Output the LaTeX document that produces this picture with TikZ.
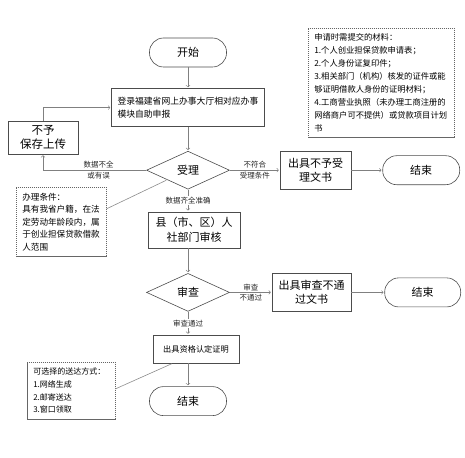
\documentclass[tikz,border=0pt]{standalone}
\usepackage{fontspec}
\setmainfont{Noto Sans CJK SC}
\usetikzlibrary{positioning,shapes.geometric}

\begin{document}
\begin{tikzpicture}[x=1pt,y=-1pt,->,shorten >=1pt,auto,node distance=22pt,
        line width=0.6pt,
        flow/.style={draw=black!50},
        every edge/.append style={flow},
        box node/.style={draw=black!70,rectangle,align=center,inner sep=2pt,
            font=\fontsize{11}{14.5}\selectfont},
        end node/.style={draw=black!70,rectangle,rounded corners=14pt,minimum width=77pt,
            minimum height=29pt,font=\fontsize{11}{13}\selectfont},
        check node/.style={draw=black!70,diamond,aspect=1,inner sep=0pt,minimum width=83pt,
            minimum height=38pt,font=\fontsize{11}{13}\selectfont},
        note node/.style={draw=black!60,dash pattern=on 1.2pt off 0.8pt,rectangle,align=left,
            anchor=north west,inner xsep=6pt},
        note line/.style={-,draw=black!45},
        label node/.style={font=\fontsize{7.5}{9}\selectfont,inner sep=1.5pt,text=black!85}]

    \useasboundingbox (0,0) rectangle (465,457);

    % main column
    \node[end node] (start) at (188,52.5) {开始};
    \node[box node,align=left,text width=141pt,minimum height=38pt,inner xsep=6pt,
        font=\fontsize{8.8}{13}\selectfont] (login) [below=21pt of start]
        {登录福建省网上办事大厅相对应办事\\模块自助申报};
    \node[check node] (accept) [below=24pt of login] {受理};
    \node[box node,minimum width=92pt,minimum height=36pt] (county)
        [below=22pt of accept,xshift=6pt] {县（市、区）人\\社部门审核};
    \node[check node] (review) [below=25pt of county,xshift=-6pt] {审查};
    \node[box node,minimum width=86pt,minimum height=28pt,font=\fontsize{8.2}{10}\selectfont]
        (cert) [below=23pt of review,xshift=8pt] {出具资格认定证明};
    \node[end node] (end3) [below=23pt of cert,xshift=-8pt] {结束};

    % right branches
    \node[box node,minimum width=71pt,minimum height=38pt] (reject1) [right=50pt of accept]
        {出具不予受\\理文书};
    \node[end node] (end1) [right=31pt of reject1] {结束};
    \node[box node,minimum width=79pt,minimum height=38pt] (reject2) [right=42pt of review]
        {出具审查不通\\过文书};
    \node[end node,minimum width=76pt] (end2) [right=33pt of reject2] {结束};

    % left side
    \node[box node,minimum width=70pt,minimum height=33pt,font=\fontsize{11.5}{14}\selectfont]
        (refuse) at (43,137.5) {不予\\保存上传};

    % notes
    \node[note node,text width=134pt,minimum height=109pt,font=\fontsize{8.3}{13.1}\selectfont]
        (materials) at (308,28)
        {申请时需提交的材料：\\1.个人创业担保贷款申请表；\\2.个人身份证复印件；\\
         3.相关部门（机构）核发的证件或能\\够证明借款人身份的证明材料；\\
         4.工商营业执照（未办理工商注册的\\网络商户可不提供）或贷款项目计划\\书};
    \node[note node,text width=78pt,minimum height=69pt,font=\fontsize{8.6}{12.5}\selectfont]
        (cond) at (16,187)
        {办理条件：\\具有我省户籍，在法\\定劳动年龄段内，属\\于创业担保贷款借款\\人范围};
    \node[note node,text width=76pt,minimum height=57pt,font=\fontsize{8}{12.7}\selectfont]
        (deliver) at (27,362)
        {可选择的送达方式：\\1.网络生成\\2.邮寄送达\\3.窗口领取};

    \path[every node/.style={label node}]
        (start) edge (login)
        (login) edge (accept)
        (accept) edge node[auto=false,fill=white,inner sep=1pt] {数据齐全准确} (accept |- county.north)
        (county.south -| review) edge (review)
        (review) edge node[auto=false,fill=white,inner sep=1pt] {审查通过} (review |- cert.north)
        (cert.south -| end3) edge (end3)
        (accept) edge node[above] {不符合} node[below] {受理条件} (reject1)
        (reject1) edge (end1)
        (review) edge node[above] {审查} node[below] {不通过} (reject2)
        (reject2) edge (end2);

    \draw[flow] (accept.west) -| node[label node,pos=0.23,above] {数据不全}
        node[label node,pos=0.23,below] {或有误} (refuse.south);
    \draw[flow] (refuse.north) |- (login.west);

    \draw[note line] ([yshift=13pt]cond.east) -- (accept.south west);
    \draw[note line] ([yshift=2pt]deliver.east) -- ([xshift=20pt]cert.south west);

\end{tikzpicture}
\end{document}
